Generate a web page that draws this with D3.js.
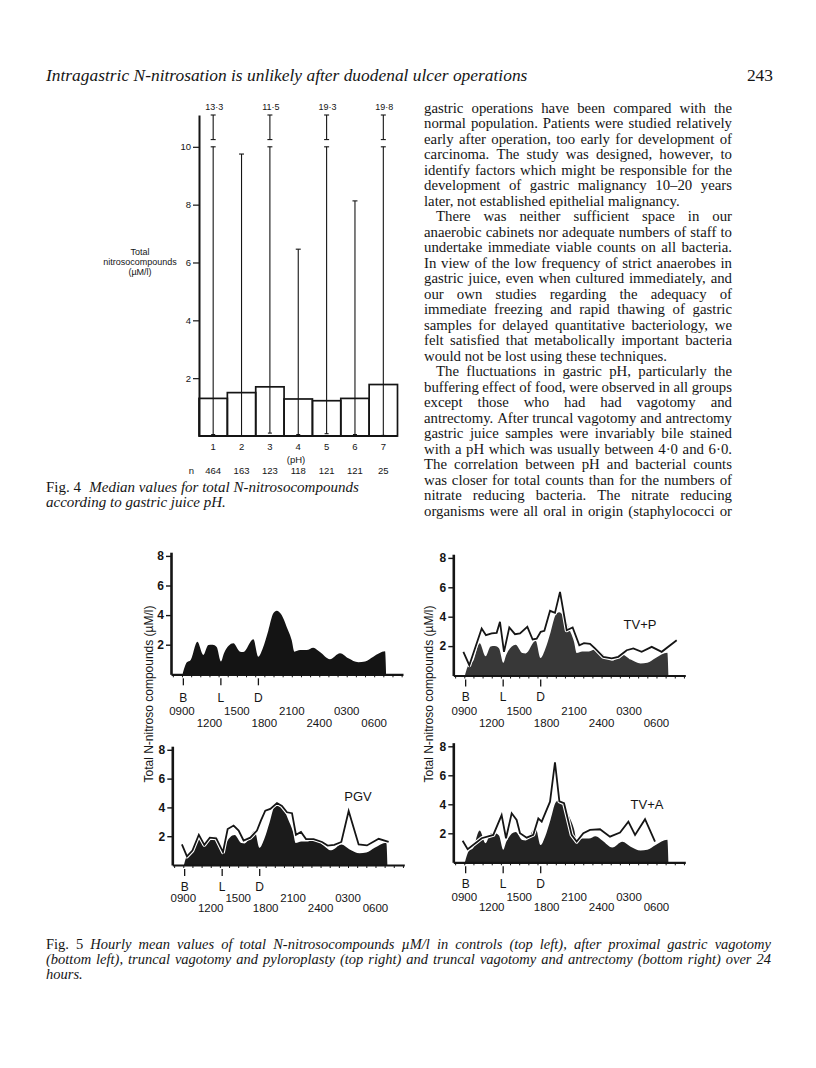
<!DOCTYPE html>
<html><head><meta charset="utf-8">
<script src="https://cdn.jsdelivr.net/npm/d3@7"></script>
<style>body{margin:0;background:#fff}svg{display:block}</style>
</head><body>
<svg id="page" width="816" height="1068"></svg>
<script>
// ================= DATA =================
const headerTitle = "Intragastric N-nitrosation is unlikely after duodenal ulcer operations";
const pageNumber = "243";

// Fig. 4 – median total N-nitrosocompounds by gastric juice pH
const phCategories = ["1","2","3","4","5","6","7"];
const sampleCounts = [464,163,123,118,121,121,25];
const medianValues = [1.30,1.50,1.70,1.28,1.22,1.30,1.78];
const maxValues    = [13.3,9.75,11.5,6.46,19.3,8.13,19.8];
const minValues    = [0.05,0.0,0.1,0.05,0.08,0.05,0.02];
const fig4Ticks    = [2,4,6,8,10];

// Fig. 5 – hourly means (hours after 0900)
const timeLabelsRow1 = ["0900","1500","2100","0300"];
const timeLabelsRow2 = ["1200","1800","2400","0600"];
const mealLabels = ["B","L","D"];
const mealHours  = [0.15,4.25,8.35];
const fig5Ticks  = [2,4,6,8];

const controlHours  = [0.07,0.51,0.95,1.68,2.33,2.88,3.35,3.79,4.26,4.59,5.61,6.34,6.70,7.80,8.34,8.82,9.43,9.98,10.35,10.89,11.44,11.99,12.28,12.90,13.62,14.35,15.08,16.17,17.27,18.18,19.27,20.00,20.91,22.19,22.30];
const controlValues = [0,0.79,0.97,2.2,1.31,1.98,2.0,1.85,0.86,1.42,2.09,1.53,1.5,2.36,1.19,1.75,2.95,4.12,4.3,4.0,3.2,2.3,1.53,1.64,1.64,1.8,1.5,1.02,1.42,1.08,0.81,0.86,1.19,1.55,0];

const tvpHours  = [-0.1,0.55,1.9,2.37,2.99,3.54,3.9,4.34,4.92,5.54,6.09,6.89,7.47,7.91,8.35,8.75,9.37,9.91,10.46,11.19,11.84,12.57,13.08,13.74,14.28,15.19,16.11,16.83,17.75,18.47,19.38,20.48,21.57,23.21];
const tvpValues = [1.61,0.7,3.2,2.74,2.86,2.9,3.65,1.61,3.27,2.81,2.86,3.31,2.45,2.5,2.97,3.04,4.4,4.26,5.69,3.08,3.27,2.06,2.2,2.16,1.84,1.27,1.16,1.27,1.72,1.84,1.61,1.95,1.61,2.4];

const pgvHours  = [-0.15,0.40,1.0,1.7,2.3,2.9,3.6,4.34,4.85,5.5,6.05,6.59,7.32,8.05,8.49,8.96,9.51,10.24,10.78,11.33,11.88,12.31,12.86,13.41,14.24,15.16,15.77,16.5,17.27,18.07,19.16,20.07,21.35,22.44];
const pgvValues = [1.43,0.6,1.0,2.1,1.4,1.9,1.85,0.9,2.5,2.74,2.39,1.7,1.9,2.39,3.1,3.77,3.9,4.3,4.1,3.66,3.6,2.1,2.3,1.8,1.8,1.6,1.35,1.4,1.6,3.75,1.43,1.36,1.82,1.6];

const tvaHours  = [-0.18,0.37,1.9,3.17,4.08,4.56,5.18,5.72,6.09,6.82,7.54,8.09,8.46,9.37,9.91,10.39,10.9,11.73,12.28,13.01,13.74,14.83,15.92,17.02,17.93,18.66,19.75,20.84];
const tvaValues = [1.49,0.9,1.66,1.89,3.26,1.66,3.38,2.92,2.0,1.7,1.9,3.03,2.8,4.18,6.9,4.2,4.07,1.89,1.43,2.0,2.23,2.28,1.77,2.05,2.8,1.89,2.97,1.43];

// Text
const bodyLines = [
"gastric operations have been compared with the",
"normal population. Patients were studied relatively",
"early after operation, too early for development of",
"carcinoma. The study was designed, however, to",
"identify factors which might be responsible for the",
"development of gastric malignancy 10–20 years",
"later, not established epithelial malignancy.",
"There was neither sufficient space in our",
"anaerobic cabinets nor adequate numbers of staff to",
"undertake immediate viable counts on all bacteria.",
"In view of the low frequency of strict anaerobes in",
"gastric juice, even when cultured immediately, and",
"our own studies regarding the adequacy of",
"immediate freezing and rapid thawing of gastric",
"samples for delayed quantitative bacteriology, we",
"felt satisfied that metabolically important bacteria",
"would not be lost using these techniques.",
"The fluctuations in gastric pH, particularly the",
"buffering effect of food, were observed in all groups",
"except those who had had vagotomy and",
"antrectomy. After truncal vagotomy and antrectomy",
"gastric juice samples were invariably bile stained",
"with a pH which was usually between 4·0 and 6·0.",
"The correlation between pH and bacterial counts",
"was closer for total counts than for the numbers of",
"nitrate reducing bacteria. The nitrate reducing",
"organisms were all oral in origin (staphylococci or"
];
const paragraphStarts = [7,17];
const paragraphEnds = [6,16];
const fig4Caption = ["Fig. 4  Median values for total N-nitrosocompounds","according to gastric juice pH."];
const fig5Caption = [
"Fig. 5  Hourly mean values of total N-nitrosocompounds µM/l in controls (top left), after proximal gastric vagotomy",
"(bottom left), truncal vagotomy and pyloroplasty (top right) and truncal vagotomy and antrectomy (bottom right) over 24",
"hours."
];

// ================= DRAWING =================
const svg = d3.select("#page");
const SERIF = "'Liberation Serif','Times New Roman',Times,serif";
const SANS = "'Liberation Sans',Arial,Helvetica,sans-serif";
const INK = "#151515";

const measurer = svg.append("text").style("visibility","hidden").attr("font-family",SERIF);
function tw(str,size,style){
  measurer.attr("font-size",size).attr("font-style",style||"normal").text(str);
  return measurer.node().getComputedTextLength();
}
function setLine(str,x0,x1,baseline,size,justify,indent,uprightCount){
  const words = str.split(/\s+/).filter(w=>w.length);
  const styles = words.map((w,i)=> uprightCount===undefined ? "normal" : (i < uprightCount ? "normal" : "italic"));
  const widths = words.map((w,i)=>tw(w,size,styles[i]));
  const sp = tw("n n",size,"normal")-tw("nn",size,"normal");
  const start = x0+(indent||0);
  const gap = (justify && words.length>1) ? (x1-start-d3.sum(widths))/(words.length-1) : sp;
  const t = svg.append("text").attr("y",baseline).attr("font-family",SERIF)
    .attr("font-size",size).attr("fill",INK);
  let x = start;
  words.forEach((w,i)=>{
    let extra = 0;
    if (uprightCount && i===uprightCount-1 && !justify) extra = sp*1.2;
    t.append("tspan").attr("x",x).attr("font-style",styles[i]).text(w);
    x += widths[i]+gap+extra;
  });
}

// Header (fitted to its printed width)
const headerSize = 15*482/tw(headerTitle,15,"italic");
svg.append("text").attr("x",46).attr("y",81).attr("font-family",SERIF).attr("font-style","italic")
  .attr("font-size",headerSize).attr("fill",INK).text(headerTitle);
svg.append("text").attr("x",773).attr("y",81).attr("text-anchor","end").attr("font-family",SERIF)
  .attr("font-size",headerSize).attr("fill",INK).text(pageNumber);

// Body column
bodyLines.forEach((line,i)=>{
  const base = 112.5 + i*15.5;
  const indent = paragraphStarts.includes(i) ? 12 : 0;
  const just = !paragraphEnds.includes(i);
  setLine(line,424,732,base,14.8,just,indent);
});

// ---------- Fig. 4 ----------
const g4 = svg.append("g");
const y4 = d3.scaleLinear().domain([0,11.1]).range([436,115]);
const x4 = d3.scaleBand().domain(phCategories).range([199,397.5]).padding(0);
const BREAK_LOW = 10.0, BREAK_HIGH = 10.25, AXIS_TOP = 11.1;
const fmt = v => d3.format(".1f")(v).replace(".","·");

const ax4 = g4.append("g").attr("transform","translate(199,0)")
  .call(d3.axisLeft(y4).tickValues(fig4Ticks).tickSize(6).tickPadding(2).tickSizeOuter(0));
ax4.select(".domain").attr("stroke",INK).attr("stroke-width",2);
ax4.selectAll(".tick line").attr("stroke",INK).attr("stroke-width",1.2);
ax4.selectAll(".tick text").attr("font-family",SANS).attr("font-size",9.5).attr("fill",INK);

g4.append("line").attr("x1",199).attr("x2",397.5).attr("y1",y4(0)).attr("y2",y4(0))
  .attr("stroke",INK).attr("stroke-width",2.2);

phCategories.forEach((c,i)=>{
  const x = x4(c), w = x4.bandwidth(), cx = x + w/2;
  g4.append("rect").attr("x",x).attr("y",y4(medianValues[i])).attr("width",w)
    .attr("height",y4(0)-y4(medianValues[i])).attr("fill","none").attr("stroke",INK).attr("stroke-width",1.7);
  const top = Math.min(maxValues[i],BREAK_LOW);
  g4.append("line").attr("x1",cx).attr("x2",cx).attr("y1",y4(minValues[i])).attr("y2",y4(top))
    .attr("stroke",INK).attr("stroke-width",1.1);
  [[minValues[i],4],[top,5]].forEach(([v,hw])=>{
    g4.append("line").attr("x1",cx-hw/2).attr("x2",cx+hw/2).attr("y1",y4(v)).attr("y2",y4(v))
      .attr("stroke",INK).attr("stroke-width",1.1);
  });
  if (maxValues[i] > BREAK_LOW) {
    g4.append("line").attr("x1",cx).attr("x2",cx).attr("y1",y4(BREAK_HIGH)).attr("y2",y4(AXIS_TOP))
      .attr("stroke",INK).attr("stroke-width",1.1);
    [BREAK_HIGH,AXIS_TOP].forEach(v=>{
      g4.append("line").attr("x1",cx-2.5).attr("x2",cx+2.5).attr("y1",y4(v)).attr("y2",y4(v))
        .attr("stroke",INK).attr("stroke-width",1.1);
    });
    g4.append("text").attr("x",cx+1).attr("y",110).attr("text-anchor","middle")
      .attr("font-family",SANS).attr("font-size",9).attr("fill",INK).text(fmt(maxValues[i]));
  }
  g4.append("text").attr("x",cx).attr("y",450).attr("text-anchor","middle")
    .attr("font-family",SANS).attr("font-size",9.5).attr("fill",INK).text(c);
  g4.append("text").attr("x",cx).attr("y",474).attr("text-anchor","middle")
    .attr("font-family",SANS).attr("font-size",9.5).attr("fill",INK).text(sampleCounts[i]);
});
g4.append("text").attr("x",296).attr("y",462.5).attr("text-anchor","middle")
  .attr("font-family",SANS).attr("font-size",9.5).attr("fill",INK).text("(pH)");
g4.append("text").attr("x",191.5).attr("y",474).attr("text-anchor","middle")
  .attr("font-family",SANS).attr("font-size",9.5).attr("fill",INK).text("n");
["Total","nitrosocompounds","(µM/l)"].forEach((s,i)=>{
  g4.append("text").attr("x",140).attr("y",255+i*10).attr("text-anchor","middle")
    .attr("font-family",SANS).attr("font-size",9).attr("fill",INK).text(s);
});

// Fig 4 caption
setLine(fig4Caption[0],46,400,492,15,false,0,2);
setLine(fig4Caption[1],46,400,507,15,false,0,0);

// ---------- Fig. 5 ----------
const panels = [
  {axisX:171,   y0:674.3, ppu:14.8, lab:[23,37,49],     fill:"#141414"},
  {axisX:453.3, y0:675.5, ppu:14.7, lab:[20.5,35,47],   fill:"#383838", hours:tvpHours, values:tvpValues, tag:"TV+P", tx:640, ty:629},
  {axisX:172.3, y0:865,   ppu:14.4, lab:[21.5,33,42.5], fill:"#1b1b1b", hours:pgvHours, values:pgvValues, tag:"PGV",  tx:358, ty:801},
  {axisX:453.3, y0:862.3, ppu:14.5, lab:[21.5,35,44.5], fill:"#232323", hours:tvaHours, values:tvaValues, tag:"TV+A", tx:647, ty:809}
];
const controlData = controlHours.map((h,i)=>({h, v:controlValues[i]}));

panels.forEach(p=>{
  const g = svg.append("g");
  const x = d3.scaleLinear().domain([-1.2,24.15]).range([p.axisX,p.axisX+232]);
  const y = d3.scaleLinear().domain([0,8.25]).range([p.y0,p.y0-8.25*p.ppu]);

  g.append("path").datum(controlData)
    .attr("d",d3.area().x(d=>x(d.h)).y0(y(0)).y1(d=>y(d.v)).curve(d3.curveMonotoneX))
    .attr("fill",p.fill);

  if (p.hours) {
    const data = p.hours.map((h,i)=>({h, v:p.values[i]}));
    const ln = d3.line().x(d=>x(d.h)).y(d=>y(d.v));
    g.append("path").datum(data).attr("d",ln).attr("fill","none").attr("stroke","#fff")
      .attr("stroke-width",4).attr("stroke-linejoin","round");
    g.append("path").datum(data).attr("d",ln).attr("fill","none").attr("stroke",INK)
      .attr("stroke-width",1.8).attr("stroke-linejoin","miter");
    g.append("text").attr("x",p.tx).attr("y",p.ty).attr("text-anchor","middle")
      .attr("font-family",SANS).attr("font-size",13).attr("fill",INK).text(p.tag);
  }

  const ay = g.append("g").attr("transform",`translate(${p.axisX},0)`)
    .call(d3.axisLeft(y).tickValues(fig5Ticks).tickSize(5).tickPadding(2).tickSizeOuter(0));
  ay.select(".domain").attr("stroke",INK).attr("stroke-width",2.6);
  ay.selectAll(".tick line").attr("stroke",INK).attr("stroke-width",1.4);
  ay.selectAll(".tick text").attr("font-family",SANS).attr("font-size",12).attr("font-weight","bold").attr("fill",INK);

  const ax = g.append("g").attr("transform",`translate(0,${p.y0})`)
    .call(d3.axisBottom(x).tickValues(d3.range(-1,25)).tickSize(3).tickSizeOuter(0).tickFormat(""));
  ax.select(".domain").attr("stroke",INK).attr("stroke-width",2.2);
  ax.selectAll(".tick line").attr("stroke",INK).attr("stroke-width",1);

  mealHours.forEach((h,i)=>{
    g.append("line").attr("x1",x(h)).attr("x2",x(h)).attr("y1",p.y0+4).attr("y2",p.y0+11)
      .attr("stroke",INK).attr("stroke-width",1.3);
    g.append("text").attr("x",x(h)).attr("y",p.y0+p.lab[0]+4.5).attr("text-anchor","middle")
      .attr("font-family",SANS).attr("font-size",12).attr("fill",INK).text(mealLabels[i]);
  });
  [[timeLabelsRow1,p.lab[1]],[timeLabelsRow2,p.lab[2]]].forEach(([labs,off])=>{
    labs.forEach(l=>{
      const h = l==="2400" ? 15 : (parseInt(l.slice(0,2),10)-9+24)%24;
      g.append("text").attr("x",x(h)).attr("y",p.y0+off+4).attr("text-anchor","middle")
        .attr("font-family",SANS).attr("font-size",11.5).attr("fill",INK).text(l);
    });
  });
});

[149,429].forEach(cx=>{
  svg.append("text").attr("transform",`translate(${cx},694) rotate(-90)`).attr("text-anchor","middle")
    .attr("dominant-baseline","central").attr("font-family",SANS).attr("font-size",12).attr("fill",INK)
    .text("Total N-nitroso compounds (µM/l)");
});

// Fig 5 caption
setLine(fig5Caption[0],46,771,949,14.5,true,0,2);
setLine(fig5Caption[1],46,771,964,14.5,true,0,0);
setLine(fig5Caption[2],46,771,979,14.5,false,0,0);
</script>
</body></html>
